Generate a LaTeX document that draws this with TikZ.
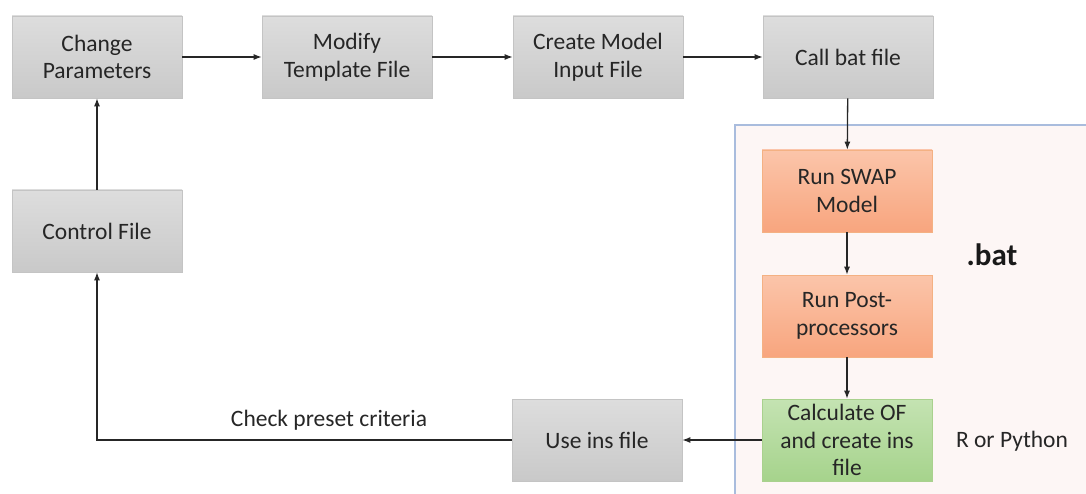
\documentclass[tikz,border=0pt]{standalone}
\usepackage{fontspec}
\setmainfont{Carlito}
\usetikzlibrary{arrows.meta}
\definecolor{grayA}{HTML}{DDDDDD}
\definecolor{grayB}{HTML}{C9C9C9}
\definecolor{grayE}{HTML}{C4C4C4}
\definecolor{orA}{HTML}{FBC5AA}
\definecolor{orB}{HTML}{F8A57E}
\definecolor{orE}{HTML}{F4B183}
\definecolor{grA}{HTML}{C4E3B2}
\definecolor{grB}{HTML}{A6D38C}
\definecolor{grE}{HTML}{A9D18E}
\definecolor{batfill}{HTML}{FDF6F5}
\definecolor{batline}{HTML}{A9BCDD}
\tikzset{
  box/.style={draw=grayE, line width=0.6pt, minimum width=170pt, minimum height=82pt,
    align=center, font=\fontsize{23.5}{27.5}\selectfont, text=black!85, inner sep=2pt},
  graybox/.style={box, top color=grayA, bottom color=grayB},
  orangebox/.style={box, draw=orE, top color=orA, bottom color=orB},
  greenbox/.style={box, draw=grE, top color=grA, bottom color=grB},
  conn/.style={line width=1.3pt, black!85, -{Latex[length=8pt,width=6pt]}},
  lbl/.style={font=\fontsize{23.5}{28}\selectfont, text=black!85}
}
\begin{document}
\begin{tikzpicture}[x=1pt,y=-1pt]
\useasboundingbox (0,0) rectangle (1086,494);
\begin{scope}
\clip (0,0) rectangle (1086,494);
\fill[batfill] (735,125) rectangle (1100,510);
\draw[batline, line width=1.2pt] (735,510) -- (735,125) -- (1100,125);
\end{scope}
\node[graybox] (cp) at (97,57) {Change\\Parameters};
\node[graybox] (mt) at (347,57) {Modify\\Template File};
\node[graybox] (cm) at (598,57) {Create Model\\Input File};
\node[graybox] (cb) at (848,57) {Call bat file};
\node[graybox] (cf) at (97,231) {Control File};
\node[orangebox] (rs) at (847,191) {Run SWAP\\Model};
\node[orangebox] (rp) at (847,316) {Run Post-\\processors};
\node[greenbox] (co) at (847,440) {Calculate OF\\and create ins\\file};
\node[graybox] (ui) at (597,440) {Use ins file};
\node[font=\fontsize{31}{34}\selectfont\bfseries, text=black!90] (bat) at (992,255) {.bat};
\node[lbl] (rpy) at (1012,441) {R or Python};
\coordinate (corner) at (97,440);
\draw[conn] (cp) -- (mt);
\draw[conn] (mt) -- (cm);
\draw[conn] (cm) -- (cb);
\draw[conn] (cb) -- (rs);
\draw[conn] (rs) -- (rp);
\draw[conn] (rp) -- (co);
\draw[conn] (co) -- (ui);
\draw[conn] (ui.west) -- (corner) -- (cf.south);
\draw[conn] (cf) -- (cp);
\node[lbl, anchor=base] (chk) at (329,426) {Check preset criteria};
\end{tikzpicture}
\end{document}
